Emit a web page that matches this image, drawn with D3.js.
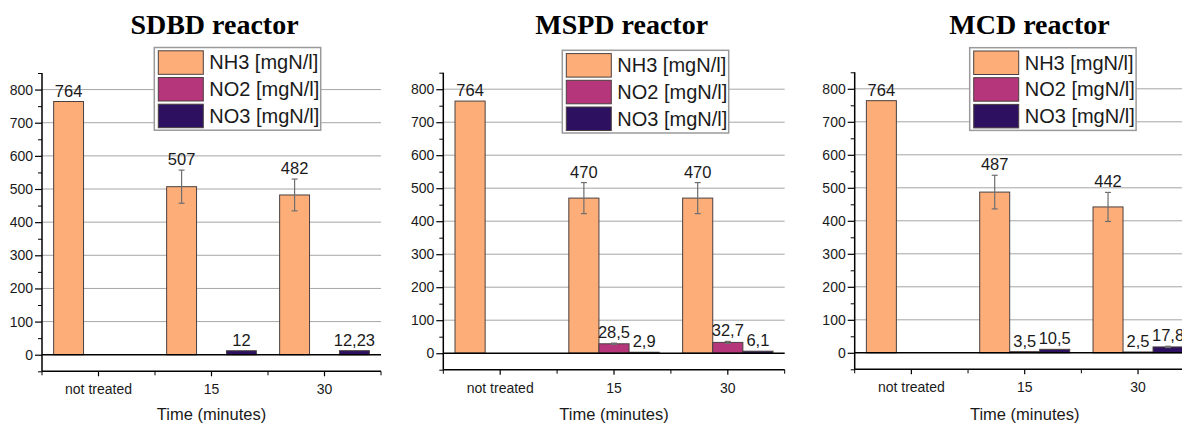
<!DOCTYPE html>
<html>
<head>
<meta charset="utf-8">
<script src="https://cdn.jsdelivr.net/npm/d3@7"></script>
<style>
  html, body { margin: 0; padding: 0; background: #fff; }
  svg { display: block; }
  text { font-family: "Liberation Sans", Arial, sans-serif; fill: #1a1a1a; }
  text.title { font-family: "Liberation Serif", "Times New Roman", serif; font-weight: bold; fill: #000; }
</style>
</head>
<body>
<svg id="chart" width="1182" height="425"></svg>
<script>
// ---- data ----
const categories = ["not treated", "15", "30"];
const seriesNames = ["NH3 [mgN/l]", "NO2 [mgN/l]", "NO3 [mgN/l]"];
const seriesColors = ["#FDAE78", "#B5367A", "#2D1160"];
const reactorTitles = ["SDBD reactor", "MSPD reactor", "MCD reactor"];
const yTickValues = [0, 100, 200, 300, 400, 500, 600, 700, 800];
const yMinorValues = [-50, 50, 150, 250, 350, 450, 550, 650, 750, 850];

const sdbdNH3 = [764, 507, 482];
const sdbdNH3Err = [0, 50, 48];
const sdbdNO2 = [null, null, null];
const sdbdNO2Err = [0, 0, 0];
const sdbdNO3 = [null, 12, 12.23];
const sdbdNO3Err = [0, 0, 0];

const mspdNH3 = [764, 470, 470];
const mspdNH3Err = [0, 47, 47];
const mspdNO2 = [null, 28.5, 32.7];
const mspdNO2Err = [0, 2, 3];
const mspdNO3 = [null, 2.9, 6.1];
const mspdNO3Err = [0, 0, 0];

const mcdNH3 = [764, 487, 442];
const mcdNH3Err = [0, 51, 44];
const mcdNO2 = [null, 3.5, 2.5];
const mcdNO2Err = [0, 0, 0];
const mcdNO3 = [null, 10.5, 17.8];
const mcdNO3Err = [0, 0, 2];

// ---- layout ----
const panels = [
  { title: reactorTitles[0], values: [sdbdNH3, sdbdNO2, sdbdNO3], errs: [sdbdNH3Err, sdbdNO2Err, sdbdNO3Err],
    left: 42, right: 381, top: 73, bottom: 371.3, titleX: 214.5, legX: 154.3, legY: 47.5 },
  { title: reactorTitles[1], values: [mspdNH3, mspdNO2, mspdNO3], errs: [mspdNH3Err, mspdNO2Err, mspdNO3Err],
    left: 443.3, right: 784.7, top: 72.7, bottom: 369.7, titleX: 621.7, legX: 562.3, legY: 50.3 },
  { title: reactorTitles[2], values: [mcdNH3, mcdNO2, mcdNO3], errs: [mcdNH3Err, mcdNO2Err, mcdNO3Err],
    left: 854.7, right: 1194.7, top: 72.3, bottom: 369.3, titleX: 1029.5, legX: 969.7, legY: 47.7 }
];

const svg = d3.select("#chart");
const fmt = v => String(v).replace(".", ",");

panels.forEach(p => {
  const g = svg.append("g");
  const x = d3.scaleBand().domain(categories).range([p.left, p.right]).padding(0);
  const bw = x.bandwidth();
  const xs = d3.scaleBand().domain(d3.range(seriesNames.length)).range([bw * 0.103, bw * 0.897]).padding(0);
  const y = d3.scaleLinear().domain([-50, 850]).range([p.bottom, p.top]);

  // grid lines
  g.append("g").selectAll("line").data(yTickValues.filter(v => v !== 0)).join("line")
    .attr("x1", p.left).attr("x2", p.right)
    .attr("y1", d => y(d)).attr("y2", d => y(d))
    .attr("stroke", "#a6a6a6").attr("stroke-width", 1);

  // bars
  const barData = [];
  p.values.forEach((arr, si) => arr.forEach((v, ci) => {
    if (v !== null) barData.push({ si, ci, v, e: p.errs[si][ci] });
  }));
  g.append("g").selectAll("rect").data(barData).join("rect")
    .attr("x", d => x(categories[d.ci]) + xs(d.si))
    .attr("width", xs.bandwidth())
    .attr("y", d => y(d.v))
    .attr("height", d => y(0) - y(d.v))
    .attr("fill", d => seriesColors[d.si])
    .attr("stroke", "#4a4040").attr("stroke-width", 1);

  // error bars
  const errData = barData.filter(d => d.e > 0);
  const eg = g.append("g").attr("stroke", "#6e6e6e").attr("stroke-width", 1.2);
  errData.forEach(d => {
    const cx = x(categories[d.ci]) + xs(d.si) + xs.bandwidth() / 2;
    eg.append("line").attr("x1", cx).attr("x2", cx).attr("y1", y(d.v + d.e)).attr("y2", y(d.v - d.e));
    eg.append("line").attr("x1", cx - 3).attr("x2", cx + 3).attr("y1", y(d.v + d.e)).attr("y2", y(d.v + d.e));
    eg.append("line").attr("x1", cx - 3).attr("x2", cx + 3).attr("y1", y(d.v - d.e)).attr("y2", y(d.v - d.e));
  });

  // value labels
  g.append("g").selectAll("text").data(barData).join("text")
    .attr("x", d => x(categories[d.ci]) + xs(d.si) + xs.bandwidth() / 2)
    .attr("y", d => y(d.v + d.e) - 5)
    .attr("text-anchor", "middle")
    .attr("font-size", "16.5px")
    .text(d => fmt(d.v));

  // zero line
  g.append("line").attr("x1", p.left).attr("x2", p.right)
    .attr("y1", y(0)).attr("y2", y(0)).attr("stroke", "#000").attr("stroke-width", 1.5);

  // y axis
  const yAxis = d3.axisLeft(y).tickValues(yTickValues).tickSize(7).tickPadding(2);
  const ya = g.append("g").attr("transform", `translate(${p.left},0)`).call(yAxis);
  ya.select(".domain").attr("stroke", "#000").attr("stroke-width", 1.5).attr("d", `M0,${p.top}V${p.bottom}`);
  ya.selectAll(".tick line").attr("stroke", "#000").attr("stroke-width", 1.2);
  ya.selectAll(".tick text").attr("font-size", "14px");
  const yMinor = d3.axisLeft(y).tickValues(yMinorValues).tickSize(4).tickFormat("");
  const ym = g.append("g").attr("transform", `translate(${p.left},0)`).call(yMinor);
  ym.select(".domain").remove();
  ym.selectAll(".tick line").attr("stroke", "#000").attr("stroke-width", 1);

  // x axis
  const xAxis = d3.axisBottom(x).tickSize(5).tickPadding(8);
  const xa = g.append("g").attr("transform", `translate(0,${p.bottom})`).call(xAxis);
  xa.select(".domain").attr("stroke", "#000").attr("stroke-width", 1.5).attr("d", `M${p.left},0H${p.right}`);
  xa.selectAll(".tick line").attr("stroke", "#000").attr("stroke-width", 1.2);
  xa.selectAll(".tick text").attr("font-size", "14px");
  const boundaries = categories.map(c => x(c)).concat([p.right]);
  g.append("g").selectAll("line").data(boundaries).join("line")
    .attr("x1", d => d).attr("x2", d => d)
    .attr("y1", p.bottom).attr("y2", p.bottom + 4)
    .attr("stroke", "#000").attr("stroke-width", 1);

  // axis title
  g.append("text").attr("x", (p.left + p.right) / 2).attr("y", 420)
    .attr("text-anchor", "middle").attr("font-size", "16.5px").text("Time (minutes)");

  // chart title
  g.append("text").attr("class", "title").attr("x", p.titleX).attr("y", 34.3)
    .attr("text-anchor", "middle").attr("font-size", "28px")
    .text(p.title);

  // legend
  const lg = g.append("g").attr("transform", `translate(${p.legX},${p.legY})`);
  lg.append("rect").attr("width", 166.4).attr("height", 82.7)
    .attr("fill", "#fff").attr("stroke", "#9a9a9a").attr("stroke-width", 1.5);
  const rows = lg.selectAll("g.row").data(seriesNames).join("g").attr("class", "row")
    .attr("transform", (d, i) => `translate(4,${3.3 + i * 26.7})`);
  rows.append("rect").attr("width", 45).attr("height", 23.5)
    .attr("fill", (d, i) => seriesColors[i]).attr("stroke", "#4a4040").attr("stroke-width", 1);
  rows.append("text").attr("x", 51).attr("y", 18.7).attr("font-size", "20px").text(d => d);
});
</script>
</body>
</html>
